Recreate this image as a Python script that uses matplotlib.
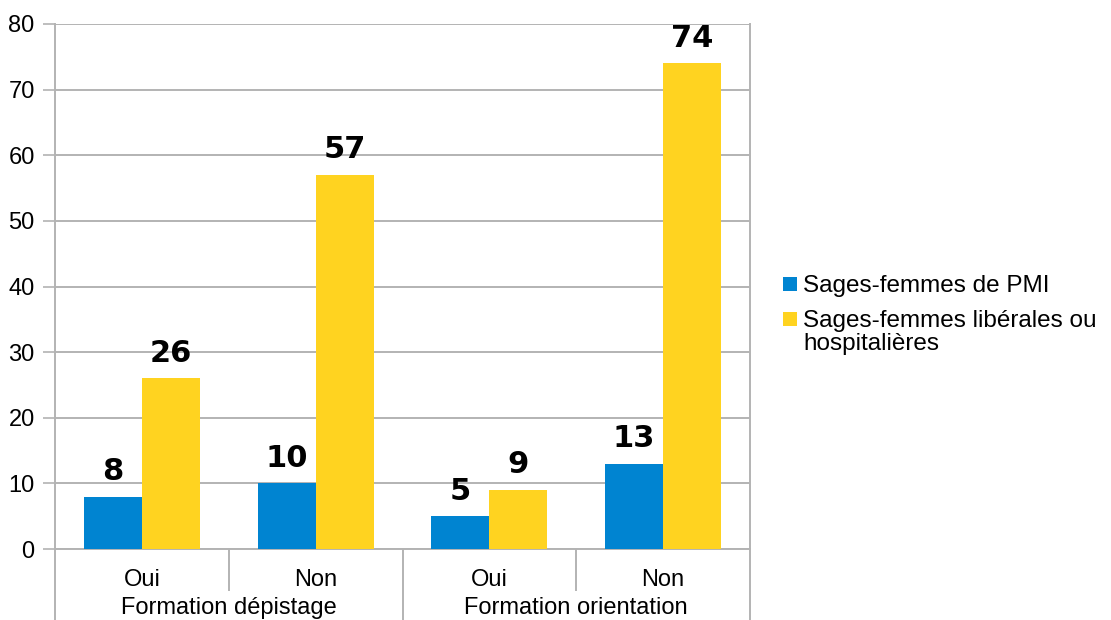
import matplotlib
matplotlib.use("Agg")
import matplotlib.pyplot as plt
import matplotlib.transforms as mtransforms
from matplotlib.patches import Rectangle

plt.rcParams["font.family"] = ["Liberation Sans", "DejaVu Sans"]

# data
categories = ["Oui", "Non", "Oui", "Non"]
groups = ["Formation dépistage", "Formation orientation"]
series_names = ["Sages-femmes de PMI", "Sages-femmes libérales ou\nhospitalières"]
pmi = [8, 10, 5, 13]
liberales = [26, 57, 9, 74]

BLUE = "#0084d1"
YELLOW = "#ffd320"
GRID = "#b3b3b3"

W, H = 1111, 620
fig = plt.figure(figsize=(W / 100, H / 100), dpi=100, facecolor="white")
ax = fig.add_axes([55 / W, (H - 549) / H, 695 / W, 525 / H])

x = list(range(len(categories)))
bw = 0.334
b1 = ax.bar([i - bw / 2 for i in x], pmi, width=bw, color=BLUE, zorder=3)
b2 = ax.bar([i + bw / 2 for i in x], liberales, width=bw, color=YELLOW, zorder=3)

for bars, vals in [(b1, pmi), (b2, liberales)]:
    for r, v in zip(bars, vals):
        ax.annotate(str(v), xy=(r.get_x() + r.get_width() / 2, v),
                    xytext=(0, 12), textcoords="offset points",
                    ha="center", va="baseline", fontsize=22,
                    fontweight="bold", color="black", family="DejaVu Sans")

ax.set_xlim(-0.5, len(categories) - 0.5)
ax.set_ylim(0, 80)
ax.set_yticks(range(0, 81, 10))
ax.set_xticks([])
ax.tick_params(axis="y", length=8.6, width=1.2, color=GRID, pad=6,
               labelsize=17, labelcolor="#000000")
ax.yaxis.grid(True, color=GRID, linewidth=1.4, zorder=0)
ax.set_axisbelow(True)
for name, sp in ax.spines.items():
    sp.set_color(GRID)
    sp.set_linewidth(1.4)
ax.spines["top"].set_visible(False)

# category separators below the axis
trans = mtransforms.blended_transform_factory(ax.transData, ax.transAxes)
outer = -71 / 525
inner = -41 / 525
for k in range(len(categories) + 1):
    xs = k - 0.5
    depth = outer if k % 2 == 0 else inner
    ax.plot([xs, xs], [0, depth], color=GRID, linewidth=1.4,
            transform=trans, clip_on=False)

for i, c in enumerate(categories):
    ax.text(i, -31 / 525, c, transform=trans, ha="center", va="center",
            fontsize=17)
for g, name in enumerate(groups):
    ax.text(2 * g + 0.5, -59 / 525, name, transform=trans, ha="center",
            va="center", fontsize=17)

# legend (square aligned with the first line of each entry)
leg_colors = [BLUE, YELLOW]
sq_centers = [284, 318.5]
for col, name, yc in zip(leg_colors, series_names, sq_centers):
    fig.add_artist(Rectangle((783 / W, 1 - (yc + 7) / H), 14 / W, 14 / H,
                             transform=fig.transFigure, facecolor=col,
                             edgecolor="none"))
    n_extra = name.count("\n")
    base = yc + 7.5 + 24 * n_extra  # va=baseline anchors the last line
    fig.text(803 / W, 1 - base / H, name, ha="left", va="baseline",
             fontsize=17.5, linespacing=1.06)

fig.savefig("out.png", dpi=100, facecolor="white")
